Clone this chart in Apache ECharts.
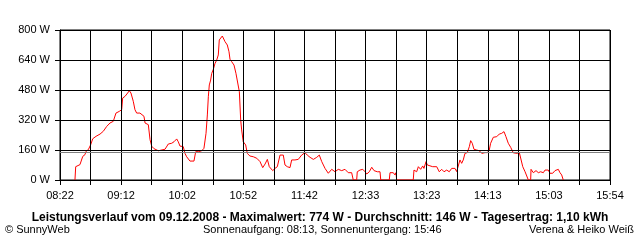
<!DOCTYPE html>
<html><head><meta charset="utf-8">
<script src="https://cdn.jsdelivr.net/npm/echarts@6/dist/echarts.min.js"></script>
<style>html,body{margin:0;padding:0;background:#fff}#c{width:640px;height:240px}</style>
</head><body><div id="c"></div>
<script>
// Time axis: minutes after chart start (08:22), chart ends 15:54
const startClock = 8 * 60 + 22;
const endClock = 15 * 60 + 54;
const gridSteps = 18;
// Minutes after 08:22 for each reading
const minutes = [12.3,12.9,14.2,16.4,17.8,18.7,20.5,21.4,23.3,25.2,26.9,29.6,32.9,35.6,38.4,41.1,43.8,46.0,48.7,50.7,51.5,53.4,54.8,55.6,57.0,58.3,60.2,61.6,63.0,65.7,67.1,69.0,69.9,72.6,74.0,75.4,77.3,78.9,80.8,82.2,86.3,89.0,91.8,93.7,95.9,97.2,98.6,101.3,102.7,104.1,106.8,110.1,111.5,113.7,116.5,118.3,120.0,121.1,121.9,122.7,123.8,124.7,126.0,127.4,128.8,130.1,130.9,132.1,133.4,134.2,135.6,137.5,138.9,139.7,141.1,143.0,144.6,146.0,147.4,148.5,149.3,150.6,152.6,153.9,156.1,158.9,161.7,164.4,166.6,168.5,170.4,172.0,174.8,176.7,178.6,180.8,183.5,184.9,186.8,189.0,190.4,193.1,195.8,198.6,199.9,201.3,203.2,205.5,208.2,211.0,213.1,215.1,217.8,220.5,223.3,226.0,228.7,231.5,234.2,236.9,239.7,241.0,243.8,244.3,246.5,248.8,250.7,252.1,254.2,256.2,258.1,260.8,263.0,263.6,270.6,271.2,273.9,275.3,276.1,276.7,290.3,290.9,293.1,294.5,296.4,298.1,299.1,300.8,301.9,303.5,306.3,309.6,311.7,313.7,315.6,317.8,319.9,321.9,324.6,326.0,327.3,328.7,330.1,331.4,332.8,334.7,336.4,337.5,338.8,340.2,342.4,344.6,346.6,349.3,351.2,352.8,353.9,356.1,358.9,361.0,363.0,364.9,366.5,368.4,370.4,372.5,373.9,375.8,377.5,378.9,380.3,382.2,383.5,384.9,386.8,387.1,389.0,391.2,393.1,395.0,397.2,398.6,401.3,402.7,404.9,406.8,408.2,409.5,410.9,412.3,413.6];
// Power in W
const power = [0,71,64,82,90,126,135,153,162,188,220,233,245,260,286,304,313,357,366,375,437,446,441,464,476,464,420,375,357,357,366,340,304,295,215,180,167,162,156,160,164,192,196,204,219,204,181,178,142,124,101,101,151,151,156,169,249,347,444,507,533,569,590,622,640,667,747,756,768,774,738,720,684,644,631,613,569,560,471,320,267,204,187,142,128,124,116,98,66,85,110,71,50,62,71,133,133,80,71,66,107,107,110,133,124,146,133,121,110,121,133,98,62,36,57,44,57,50,57,39,39,0,0,44,53,57,44,32,44,68,50,44,44,0,0,39,39,27,39,0,0,53,44,71,57,75,62,98,80,71,71,71,44,57,44,53,44,62,62,45,53,107,89,107,142,146,178,210,196,164,160,156,142,146,146,160,196,228,231,245,249,258,231,196,174,145,137,142,146,137,71,44,34,0,0,57,39,50,39,44,39,53,53,36,36,50,44,57,39,27,0];
const average = 146;
const yTicks = [0,160,320,480,640,800];
const titleText = 'Leistungsverlauf vom 09.12.2008 - Maximalwert: 774 W - Durchschnitt: 146 W - Tagesertrag: 1,10 kWh';
const footLeft = '\u00A9 SunnyWeb';
const footMid = 'Sonnenaufgang: 08:13, Sonnenuntergang: 15:46';
const footRight = 'Verena & Heiko Wei\u00DF';

const span = endClock - startClock;
const step = span / gridSteps;
const data = minutes.map((m, i) => [m, power[i]]);
const pad = n => (n < 10 ? '0' : '') + n;
const FONT = '"Liberation Sans", Arial, sans-serif';

const chart = echarts.init(document.getElementById('c'), null, {renderer: 'canvas'});
chart.setOption({
  animation: false,
  backgroundColor: '#fff',
  grid: {left: 60, top: 30, width: 550, height: 150, show: true, borderColor: '#000', borderWidth: 1, containLabel: false},
  xAxis: {
    type: 'value', min: 0, max: span, interval: step, z: 3,
    axisLine: {show: true, lineStyle: {color: '#000', width: 1}},
    axisTick: {show: true, inside: false, length: 5, lineStyle: {color: '#000'}},
    splitLine: {show: true, lineStyle: {color: '#000', width: 1}},
    axisLabel: {
      margin: 10, color: '#000', fontSize: 11, fontFamily: FONT, showMaxLabel: true,
      formatter: function (v) {
        const k = Math.round(v / step);
        if (k % 2 !== 0) return '';
        const t = Math.floor(startClock + k * step + 1e-6);
        return pad(Math.floor(t / 60)) + ':' + pad(t % 60);
      }
    }
  },
  yAxis: {
    type: 'value', min: yTicks[0], max: yTicks[yTicks.length - 1], interval: yTicks[1] - yTicks[0], z: 3,
    axisLine: {show: true, lineStyle: {color: '#000', width: 1}},
    axisTick: {show: true, inside: false, length: 5, lineStyle: {color: '#000'}},
    splitLine: {show: true, lineStyle: {color: '#000', width: 1}},
    axisLabel: {margin: 10, color: '#000', fontSize: 11, fontFamily: FONT, formatter: '{value} W'}
  },
  series: [{
    type: 'line', data: data, showSymbol: false, symbol: 'none', z: 2,
    lineStyle: {color: '#ff0000', width: 1}, itemStyle: {color: '#ff0000'},
    markLine: {
      silent: true, symbol: ['none', 'none'], z: 4,
      label: {show: false},
      lineStyle: {color: '#808080', width: 1, type: 'solid'},
      data: [{yAxis: average}]
    }
  }],
  graphic: [
    {type: 'text', z: 10, style: {x: 320, y: 218, text: titleText, align: 'center', verticalAlign: 'middle', font: 'bold 12px ' + FONT, fill: '#000'}},
    {type: 'text', z: 10, style: {x: 5, y: 230, text: footLeft, align: 'left', verticalAlign: 'middle', font: '11px ' + FONT, fill: '#000'}},
    {type: 'text', z: 10, style: {x: 203, y: 230, text: footMid, align: 'left', verticalAlign: 'middle', font: '11px ' + FONT, fill: '#000'}},
    {type: 'text', z: 10, style: {x: 634, y: 230, text: footRight, align: 'right', verticalAlign: 'middle', font: '11px ' + FONT, fill: '#000'}}
  ]
});
</script></body></html>
